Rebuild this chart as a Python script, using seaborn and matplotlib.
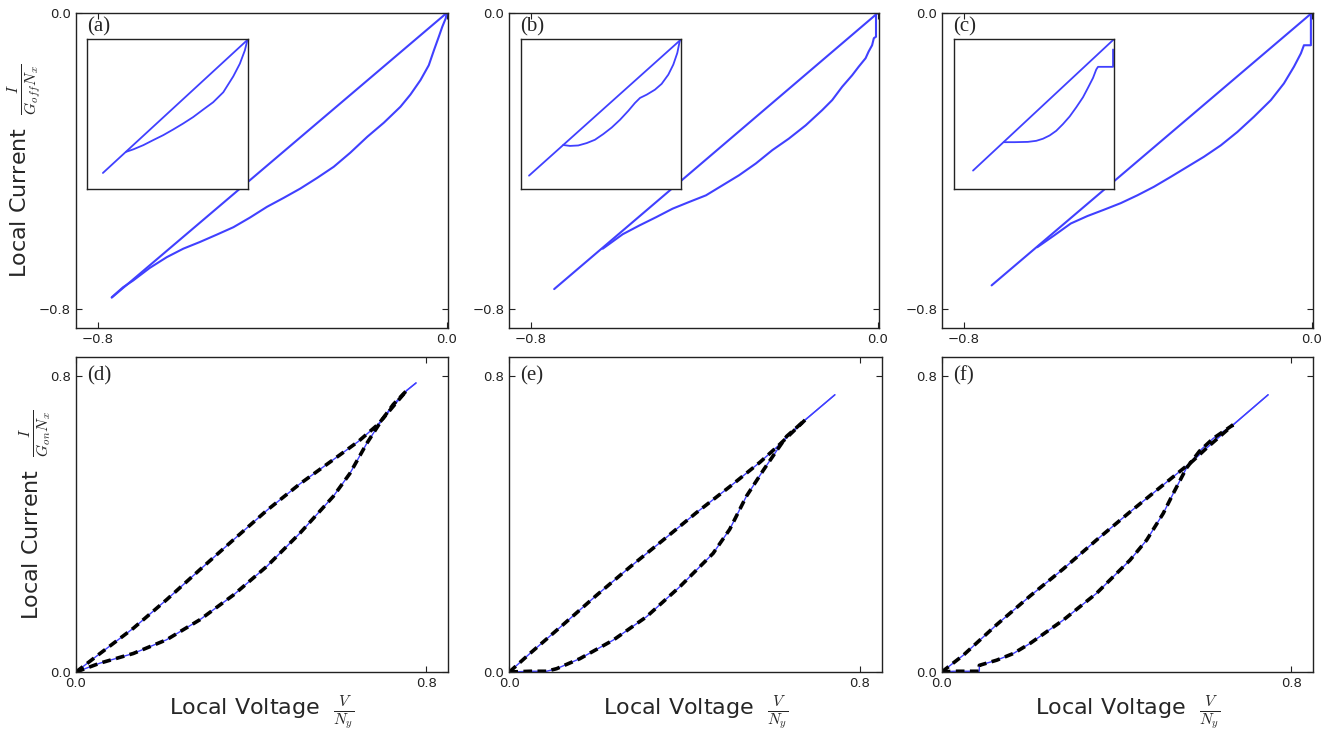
import matplotlib
matplotlib.use("Agg")
import matplotlib.pyplot as plt
import seaborn as sns

# ---- data ----
# top row: I/(G_off N_x) against V/N_y, straight branch plus lower branch
a_diag_v = [-0.768, 0.0]
a_diag_i = [-0.768, 0.0]
a_low_v = [-0.768, -0.742, -0.719, -0.681, -0.642, -0.604, -0.566, -0.527, -0.489, -0.451, -0.412, -0.374,
           -0.336, -0.297, -0.259, -0.221, -0.182, -0.144, -0.106, -0.083, -0.060, -0.041, -0.029, -0.018,
           -0.010, -0.002, 0.0]
a_low_i = [-0.767, -0.740, -0.722, -0.688, -0.659, -0.636, -0.618, -0.598, -0.578, -0.552, -0.523, -0.499,
           -0.474, -0.445, -0.415, -0.377, -0.334, -0.296, -0.253, -0.220, -0.181, -0.141, -0.100, -0.064,
           -0.037, -0.014, 0.0]

b_diag_v = [-0.746, 0.0]
b_diag_i = [-0.745, 0.0]
b_low_v = [-0.634, -0.588, -0.549, -0.511, -0.473, -0.435, -0.396, -0.358, -0.320, -0.281, -0.243, -0.205,
           -0.166, -0.128, -0.105, -0.082, -0.059, -0.044, -0.028, -0.021, -0.013, -0.009, -0.004, -0.004]
b_low_i = [-0.636, -0.597, -0.573, -0.551, -0.528, -0.510, -0.492, -0.465, -0.438, -0.406, -0.370, -0.339,
           -0.303, -0.262, -0.235, -0.199, -0.168, -0.145, -0.122, -0.104, -0.087, -0.068, -0.064, 0.0]

c_diag_v = [-0.736, 0.0]
c_diag_i = [-0.735, 0.0]
c_low_v = [-0.631, -0.592, -0.554, -0.516, -0.478, -0.439, -0.401, -0.363, -0.324, -0.286, -0.248, -0.209,
           -0.171, -0.133, -0.094, -0.064, -0.041, -0.025, -0.018, -0.002, -0.002]
c_low_i = [-0.632, -0.600, -0.568, -0.548, -0.531, -0.513, -0.492, -0.469, -0.442, -0.415, -0.388, -0.357,
           -0.321, -0.280, -0.235, -0.190, -0.145, -0.109, -0.087, -0.087, 0.0]

# insets (normalised to their own box)
ia_diag_v = [-0.901, 0.0]
ia_diag_i = [-0.893, 0.0]
ia_low_v = [-0.758, -0.712, -0.650, -0.588, -0.526, -0.464, -0.402, -0.340, -0.278, -0.216, -0.153,
            -0.091, -0.050, -0.019, -0.004, 0.0]
ia_low_i = [-0.752, -0.735, -0.707, -0.673, -0.640, -0.602, -0.562, -0.519, -0.469, -0.420, -0.353,
            -0.247, -0.162, -0.073, -0.007, 0.0]

ib_diag_v = [-0.950, 0.0]
ib_diag_i = [-0.911, 0.0]
ib_low_v = [-0.736, -0.694, -0.642, -0.589, -0.538, -0.486, -0.433, -0.381, -0.329, -0.288, -0.256,
            -0.214, -0.163, -0.121, -0.079, -0.048, -0.023, -0.006]
ib_low_i = [-0.706, -0.712, -0.709, -0.693, -0.671, -0.633, -0.589, -0.537, -0.477, -0.425, -0.391,
            -0.369, -0.336, -0.297, -0.235, -0.168, -0.090, 0.0]

ic_diag_v = [-0.879, 0.0]
ic_diag_i = [-0.877, 0.0]
ic_low_v = [-0.686, -0.619, -0.536, -0.484, -0.442, -0.400, -0.359, -0.317, -0.275, -0.234, -0.192,
            -0.161, -0.129, -0.109, -0.098, -0.004, -0.004]
ic_low_i = [-0.687, -0.687, -0.685, -0.678, -0.664, -0.642, -0.611, -0.566, -0.515, -0.454, -0.387,
            -0.324, -0.257, -0.201, -0.183, -0.183, -0.067]

# bottom row: I/(G_on N_x) against V/N_y, upper and lower branches + tip of the solid curve
d_up_v = [0.0, 0.055, 0.131, 0.207, 0.283, 0.360, 0.436, 0.512, 0.588, 0.645, 0.690, 0.725, 0.756]
d_up_i = [0.0, 0.050, 0.118, 0.195, 0.276, 0.357, 0.436, 0.508, 0.573, 0.622, 0.668, 0.717, 0.760]
d_lo_v = [0.0, 0.055, 0.131, 0.207, 0.283, 0.360, 0.436, 0.512, 0.588, 0.626, 0.664, 0.700, 0.725, 0.756]
d_lo_i = [0.0, 0.024, 0.050, 0.087, 0.141, 0.208, 0.285, 0.375, 0.474, 0.536, 0.616, 0.682, 0.722, 0.760]
d_tip = (0.777, 0.780)

e_up_v = [0.0, 0.047, 0.123, 0.199, 0.275, 0.351, 0.427, 0.503, 0.572, 0.617, 0.675]
e_up_i = [0.0, 0.050, 0.128, 0.207, 0.283, 0.356, 0.430, 0.500, 0.566, 0.614, 0.680]
e_lo_v = [0.0, 0.047, 0.085, 0.108, 0.161, 0.237, 0.313, 0.389, 0.465, 0.503, 0.541, 0.580, 0.610, 0.633, 0.675]
e_lo_i = [0.0, 0.002, 0.002, 0.009, 0.036, 0.086, 0.149, 0.230, 0.320, 0.385, 0.474, 0.545, 0.597, 0.636, 0.680]
e_tip = (0.743, 0.748)

f_up_v = [0.0, 0.050, 0.126, 0.202, 0.278, 0.354, 0.431, 0.507, 0.575, 0.606, 0.667]
f_up_i = [0.0, 0.046, 0.128, 0.205, 0.278, 0.356, 0.432, 0.505, 0.570, 0.604, 0.667]
f_lo_v = [0.0, 0.027, 0.086, 0.086, 0.126, 0.164, 0.202, 0.278, 0.354, 0.431, 0.469, 0.507, 0.530, 0.560, 0.590, 0.621, 0.667]
f_lo_i = [0.0, 0.002, 0.002, 0.018, 0.032, 0.050, 0.077, 0.140, 0.212, 0.302, 0.356, 0.428, 0.482, 0.550, 0.596, 0.630, 0.667]
f_tip = (0.747, 0.748)

top_ticks = [-0.8, 0.0]
top_ticklabels = ["\u22120.8", "0.0"]
bot_ticks = [0.0, 0.8]
bot_ticklabels = ["0.0", "0.8"]
panel_tags = ["(a)", "(b)", "(c)", "(d)", "(e)", "(f)"]

# ---- style ----
sns.set_style("ticks")
plt.rcParams["font.family"] = ["DejaVu Sans"]
plt.rcParams["mathtext.fontset"] = "cm"

blue = (0.25, 0.25, 1.0)
edge = "#222222"

fig = plt.figure(figsize=(13.4, 7.31), dpi=100)

# axes boxes in figure fraction
lefts_top = [0.0567, 0.3799, 0.7030]
widths_top = [0.2776, 0.2761, 0.2769]
lefts_bot = [0.0567, 0.3801, 0.7028]
widths_bot = [0.2776, 0.2779, 0.2771]
inset_lefts = [0.0649, 0.3888, 0.7117]
inset_widths = [0.1201, 0.1194, 0.1194]


def frame(ax):
    for sp in ax.spines.values():
        sp.set_visible(True)
        sp.set_linewidth(1.0)
        sp.set_color(edge)


def style_axes(ax, ticks, labels):
    ax.set_xticks(ticks)
    ax.set_xticklabels(labels)
    ax.set_yticks(ticks)
    ax.set_yticklabels(labels)
    ax.tick_params(direction="in", top=True, right=True, length=4, width=0.8,
                   labelsize=9.5, colors=edge)
    frame(ax)


top_sets = [
    (a_diag_v, a_diag_i, a_low_v, a_low_i, ia_diag_v, ia_diag_i, ia_low_v, ia_low_i),
    (b_diag_v, b_diag_i, b_low_v, b_low_i, ib_diag_v, ib_diag_i, ib_low_v, ib_low_i),
    (c_diag_v, c_diag_i, c_low_v, c_low_i, ic_diag_v, ic_diag_i, ic_low_v, ic_low_i),
]

for k, (dv, di, lv, li, idv, idi, ilv, ili) in enumerate(top_sets):
    ax = fig.add_axes([lefts_top[k], 0.5513, widths_top[k], 0.4309])
    sns.lineplot(x=dv, y=di, sort=False, estimator=None, color=blue, lw=1.5, ax=ax)
    sns.lineplot(x=lv, y=li, sort=False, estimator=None, color=blue, lw=1.5, ax=ax)
    ax.set_xlim(-0.85, 0.003)
    ax.set_ylim(-0.85, 0.0)
    style_axes(ax, top_ticks, top_ticklabels)
    ax.text(0.03, 0.988, panel_tags[k], transform=ax.transAxes, ha="left", va="top",
            fontsize=15, family="Liberation Serif")
    if k == 0:
        ax.set_ylabel("Local Current  $\\frac{I}{G_{off}N_x}$", fontsize=16)
        ax.yaxis.set_label_coords(-0.085, 0.5)

    ins = fig.add_axes([inset_lefts[k], 0.7415, inset_widths[k], 0.2045])
    sns.lineplot(x=idv, y=idi, sort=False, estimator=None, color=blue, lw=1.3, ax=ins)
    sns.lineplot(x=ilv, y=ili, sort=False, estimator=None, color=blue, lw=1.3, ax=ins)
    ins.set_xlim(-1, 0)
    ins.set_ylim(-1, 0)
    ins.set_xticks([])
    ins.set_yticks([])
    frame(ins)

bot_sets = [
    (d_up_v, d_up_i, d_lo_v, d_lo_i, d_tip),
    (e_up_v, e_up_i, e_lo_v, e_lo_i, e_tip),
    (f_up_v, f_up_i, f_lo_v, f_lo_i, f_tip),
]

for k, (uv, ui, lv, li, tip) in enumerate(bot_sets):
    ax = fig.add_axes([lefts_bot[k], 0.0807, widths_bot[k], 0.4309])
    # solid simulation curve, runs out to the tip
    sns.lineplot(x=uv + [tip[0]], y=ui + [tip[1]], sort=False, estimator=None,
                 color=blue, lw=1.0, ax=ax)
    sns.lineplot(x=lv + [tip[0]], y=li + [tip[1]], sort=False, estimator=None,
                 color=blue, lw=1.0, ax=ax)
    # dashed model curve on top
    sns.lineplot(x=uv, y=ui, sort=False, estimator=None, color="black", lw=2.6,
                 linestyle=(0, (2.4, 1.5)), ax=ax)
    sns.lineplot(x=lv, y=li, sort=False, estimator=None, color="black", lw=2.6,
                 linestyle=(0, (2.4, 1.5)), ax=ax)
    ax.set_xlim(0.0, 0.85)
    ax.set_ylim(0.0, 0.85)
    style_axes(ax, bot_ticks, bot_ticklabels)
    ax.text(0.03, 0.97, panel_tags[3 + k], transform=ax.transAxes, ha="left", va="top",
            fontsize=15, family="Liberation Serif")
    ax.set_xlabel("Local Voltage  $\\frac{V}{N_y}$", fontsize=16)
    ax.xaxis.set_label_coords(0.5, -0.07)
    if k == 0:
        ax.set_ylabel("Local Current  $\\frac{I}{G_{on}N_x}$", fontsize=16)
        ax.yaxis.set_label_coords(-0.058, 0.5)

fig.savefig("out.png", dpi=100)
